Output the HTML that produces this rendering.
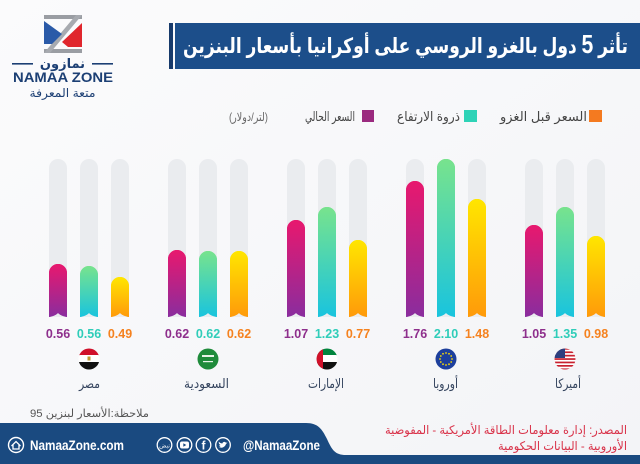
<!DOCTYPE html>
<html><head><meta charset="utf-8">
<style>
html,body{margin:0;padding:0;background:#f7f8fa;}
svg{display:block;}
text{font-family:"Liberation Sans","DejaVu Sans",sans-serif;}
</style></head>
<body>
<svg width="640" height="464" viewBox="0 0 640 464" xmlns="http://www.w3.org/2000/svg">
<defs>
  <linearGradient id="gm" x1="0" y1="0" x2="0" y2="1">
    <stop offset="0" stop-color="#e8186e"/><stop offset="1" stop-color="#8a2d9e"/>
  </linearGradient>
  <linearGradient id="gt" x1="0" y1="0" x2="0" y2="1">
    <stop offset="0" stop-color="#78e38d"/><stop offset="1" stop-color="#19c4de"/>
  </linearGradient>
  <linearGradient id="gy" x1="0" y1="0" x2="0" y2="1">
    <stop offset="0" stop-color="#ffe600"/><stop offset="1" stop-color="#ff9a0a"/>
  </linearGradient>
  <linearGradient id="bg" x1="0" y1="0" x2="1" y2="1">
    <stop offset="0" stop-color="#fbfbfc"/><stop offset="1" stop-color="#f3f4f7"/>
  </linearGradient>
  <pattern id="ln" patternUnits="userSpaceOnUse" x="0" y="194" width="640" height="18.17">
    <rect x="0" y="0" width="640" height="1.2" fill="#ffffff" fill-opacity="0.4"/>
  </pattern>
  <clipPath id="c1"><circle cx="89" cy="359" r="10.5"/></clipPath>
  <clipPath id="c2"><circle cx="208" cy="359" r="10.5"/></clipPath>
  <clipPath id="c3"><circle cx="327" cy="359" r="10.5"/></clipPath>
  <clipPath id="c4"><circle cx="446" cy="359" r="10.5"/></clipPath>
  <clipPath id="c5"><circle cx="565" cy="359" r="10.5"/></clipPath>
</defs>

<rect x="0" y="0" width="640" height="464" fill="url(#bg)"/>

<!-- Logo -->
<g>
  <rect x="44" y="15" width="38" height="4" fill="#9a9da3"/>
  <rect x="44" y="49" width="38" height="4" fill="#9a9da3"/>
  <polygon points="76,15 82,15 50,53 44,53" fill="#a7aab0"/>
  <polygon points="44,21 62,34 52,44 44,44" fill="#2a5aa8"/>
  <polygon points="82,23 82,47 68,47 62,42" fill="#e0262d"/>
  <rect x="12" y="63" width="21" height="1.6" fill="#1c3f74"/>
  <rect x="92" y="63" width="21" height="1.6" fill="#1c3f74"/>
  <text x="62.5" y="68" font-size="13" font-weight="bold" fill="#1c3f74" text-anchor="middle" direction="rtl">نمازون</text>
  <text x="63" y="82" font-size="14" font-weight="bold" fill="#1c3f74" text-anchor="middle" textLength="100" lengthAdjust="spacingAndGlyphs">NAMAA ZONE</text>
  <text x="62.5" y="97" font-size="12" fill="#1c3f74" text-anchor="middle" direction="rtl" textLength="66" lengthAdjust="spacingAndGlyphs">متعة المعرفة</text>
</g>

<!-- Title -->
<rect x="169" y="23" width="4" height="46" fill="#173a6b"/>
<rect x="175" y="23" width="465" height="46" fill="#1c4e8a"/>
<text x="405.5" y="53" font-size="21" font-weight="bold" fill="#ffffff" text-anchor="middle" direction="rtl" textLength="445" lengthAdjust="spacingAndGlyphs">تأثر <tspan font-size="26">5</tspan> دول بالغزو الروسي على أوكرانيا بأسعار البنزين</text>

<!-- Legend -->
<rect x="589" y="110" width="13" height="12" fill="#f47a20"/>
<text x="543.5" y="121" font-size="13" fill="#444" text-anchor="middle" direction="rtl" textLength="87" lengthAdjust="spacingAndGlyphs">السعر قبل الغزو</text>
<rect x="464" y="110" width="13" height="12" fill="#2ed3b7"/>
<text x="428.5" y="121" font-size="13" fill="#444" text-anchor="middle" direction="rtl" textLength="63" lengthAdjust="spacingAndGlyphs">ذروة الارتفاع</text>
<rect x="362" y="110" width="12" height="12" fill="#9b2a7f"/>
<text x="330" y="121" font-size="13" fill="#444" text-anchor="middle" direction="rtl" textLength="50" lengthAdjust="spacingAndGlyphs">السعر الحالي</text>
<text x="248.5" y="121" font-size="12" fill="#666" text-anchor="middle" direction="rtl" textLength="39" lengthAdjust="spacingAndGlyphs">(لتر/دولار)</text>

<!-- Tracks -->
<g fill="#eaecef">
  <path d="M49,317 L49,168 A9,9 0 0 1 67,168 L67,317 Z"/>
  <path d="M80,317 L80,168 A9,9 0 0 1 98,168 L98,317 Z"/>
  <path d="M111,317 L111,168 A9,9 0 0 1 129,168 L129,317 Z"/>
  <path d="M168,317 L168,168 A9,9 0 0 1 186,168 L186,317 Z"/>
  <path d="M199,317 L199,168 A9,9 0 0 1 217,168 L217,317 Z"/>
  <path d="M230,317 L230,168 A9,9 0 0 1 248,168 L248,317 Z"/>
  <path d="M287,317 L287,168 A9,9 0 0 1 305,168 L305,317 Z"/>
  <path d="M318,317 L318,168 A9,9 0 0 1 336,168 L336,317 Z"/>
  <path d="M349,317 L349,168 A9,9 0 0 1 367,168 L367,317 Z"/>
  <path d="M406,317 L406,168 A9,9 0 0 1 424,168 L424,317 Z"/>
  <path d="M437,317 L437,168 A9,9 0 0 1 455,168 L455,317 Z"/>
  <path d="M468,317 L468,168 A9,9 0 0 1 486,168 L486,317 Z"/>
  <path d="M525,317 L525,168 A9,9 0 0 1 543,168 L543,317 Z"/>
  <path d="M556,317 L556,168 A9,9 0 0 1 574,168 L574,317 Z"/>
  <path d="M587,317 L587,168 A9,9 0 0 1 605,168 L605,317 Z"/>
</g>

<!-- Bars -->
<g id="bars">
  <path id="b1" d="M49,317 L49,273 A9,9 0 0 1 67,273 L67,317 Q61,316 58,313 Q55,316 49,317 Z" fill="url(#gm)"/>
  <path id="b2" d="M80,317 L80,275 A9,9 0 0 1 98,275 L98,317 Q92,316 89,313 Q86,316 80,317 Z" fill="url(#gt)"/>
  <path id="b3" d="M111,317 L111,286 A9,9 0 0 1 129,286 L129,317 Q123,316 120,313 Q117,316 111,317 Z" fill="url(#gy)"/>
  <path id="b4" d="M168,317 L168,259 A9,9 0 0 1 186,259 L186,317 Q180,316 177,313 Q174,316 168,317 Z" fill="url(#gm)"/>
  <path id="b5" d="M199,317 L199,260 A9,9 0 0 1 217,260 L217,317 Q211,316 208,313 Q205,316 199,317 Z" fill="url(#gt)"/>
  <path id="b6" d="M230,317 L230,260 A9,9 0 0 1 248,260 L248,317 Q242,316 239,313 Q236,316 230,317 Z" fill="url(#gy)"/>
  <path id="b7" d="M287,317 L287,229 A9,9 0 0 1 305,229 L305,317 Q299,316 296,313 Q293,316 287,317 Z" fill="url(#gm)"/>
  <path id="b8" d="M318,317 L318,216 A9,9 0 0 1 336,216 L336,317 Q330,316 327,313 Q324,316 318,317 Z" fill="url(#gt)"/>
  <path id="b9" d="M349,317 L349,249 A9,9 0 0 1 367,249 L367,317 Q361,316 358,313 Q355,316 349,317 Z" fill="url(#gy)"/>
  <path id="b10" d="M406,317 L406,190 A9,9 0 0 1 424,190 L424,317 Q418,316 415,313 Q412,316 406,317 Z" fill="url(#gm)"/>
  <path id="b11" d="M437,317 L437,168 A9,9 0 0 1 455,168 L455,317 Q449,316 446,313 Q443,316 437,317 Z" fill="url(#gt)"/>
  <path id="b12" d="M468,317 L468,208 A9,9 0 0 1 486,208 L486,317 Q480,316 477,313 Q474,316 468,317 Z" fill="url(#gy)"/>
  <path id="b13" d="M525,317 L525,234 A9,9 0 0 1 543,234 L543,317 Q537,316 534,313 Q531,316 525,317 Z" fill="url(#gm)"/>
  <path id="b14" d="M556,317 L556,216 A9,9 0 0 1 574,216 L574,317 Q568,316 565,313 Q562,316 556,317 Z" fill="url(#gt)"/>
  <path id="b15" d="M587,317 L587,245 A9,9 0 0 1 605,245 L605,317 Q599,316 596,313 Q593,316 587,317 Z" fill="url(#gy)"/>
</g>
<g fill="url(#ln)">
  <use href="#b1"/><use href="#b2"/><use href="#b3"/><use href="#b4"/><use href="#b5"/>
  <use href="#b6"/><use href="#b7"/><use href="#b8"/><use href="#b9"/><use href="#b10"/>
  <use href="#b11"/><use href="#b12"/><use href="#b13"/><use href="#b14"/><use href="#b15"/>
</g>

<!-- Values -->
<g font-size="12.5" font-weight="bold" text-anchor="middle">
  <text x="58" y="338" fill="#8e2f8c">0.56</text>
  <text x="89" y="338" fill="#2fcdb9">0.56</text>
  <text x="120" y="338" fill="#f5821f">0.49</text>
  <text x="177" y="338" fill="#8e2f8c">0.62</text>
  <text x="208" y="338" fill="#2fcdb9">0.62</text>
  <text x="239" y="338" fill="#f5821f">0.62</text>
  <text x="296" y="338" fill="#8e2f8c">1.07</text>
  <text x="327" y="338" fill="#2fcdb9">1.23</text>
  <text x="358" y="338" fill="#f5821f">0.77</text>
  <text x="415" y="338" fill="#8e2f8c">1.76</text>
  <text x="446" y="338" fill="#2fcdb9">2.10</text>
  <text x="477" y="338" fill="#f5821f">1.48</text>
  <text x="534" y="338" fill="#8e2f8c">1.05</text>
  <text x="565" y="338" fill="#2fcdb9">1.35</text>
  <text x="596" y="338" fill="#f5821f">0.98</text>
</g>

<!-- Flags -->
<g clip-path="url(#c1)">
  <rect x="78" y="348" width="22" height="8" fill="#d0102a"/>
  <rect x="78" y="355" width="22" height="8" fill="#ffffff"/>
  <rect x="78" y="362" width="22" height="9" fill="#111111"/>
  <rect x="87.5" y="356.5" width="3" height="4" fill="#c09a30"/>
</g>
<g clip-path="url(#c2)">
  <rect x="197" y="348" width="22" height="22" fill="#1f8b3b"/>
  <rect x="202" y="355" width="12" height="2" fill="#e8f3e8"/>
  <rect x="203" y="361" width="10" height="1.2" fill="#e8f3e8"/>
</g>
<g clip-path="url(#c3)">
  <rect x="316" y="348" width="22" height="8" fill="#00843d"/>
  <rect x="316" y="355" width="22" height="8" fill="#ffffff"/>
  <rect x="316" y="362" width="22" height="9" fill="#111111"/>
  <rect x="316" y="348" width="7" height="22" fill="#d0102a"/>
</g>
<g clip-path="url(#c4)">
  <rect x="435" y="348" width="22" height="22" fill="#1d3f9c"/>
  <g fill="#f5d90a">
    <circle cx="446" cy="353" r="0.9"/><circle cx="449" cy="353.8" r="0.9"/><circle cx="451.2" cy="356" r="0.9"/>
    <circle cx="452" cy="359" r="0.9"/><circle cx="451.2" cy="362" r="0.9"/><circle cx="449" cy="364.2" r="0.9"/>
    <circle cx="446" cy="365" r="0.9"/><circle cx="443" cy="364.2" r="0.9"/><circle cx="440.8" cy="362" r="0.9"/>
    <circle cx="440" cy="359" r="0.9"/><circle cx="440.8" cy="356" r="0.9"/><circle cx="443" cy="353.8" r="0.9"/>
  </g>
</g>
<g clip-path="url(#c5)">
  <rect x="554" y="348" width="22" height="22" fill="#ffffff"/>
  <g fill="#c8202f">
    <rect x="554" y="348" width="22" height="1.7"/><rect x="554" y="351.4" width="22" height="1.7"/>
    <rect x="554" y="354.8" width="22" height="1.7"/><rect x="554" y="358.2" width="22" height="1.7"/>
    <rect x="554" y="361.6" width="22" height="1.7"/><rect x="554" y="365" width="22" height="1.7"/>
    <rect x="554" y="368.4" width="22" height="1.7"/>
  </g>
  <rect x="554" y="348" width="11" height="10" fill="#2d3f7f"/>
</g>

<!-- Country names -->
<g font-size="13" fill="#34445e" text-anchor="middle" direction="rtl">
  <text x="89.5" y="388" textLength="21" lengthAdjust="spacingAndGlyphs">مصر</text>
  <text x="206.5" y="388" textLength="45" lengthAdjust="spacingAndGlyphs">السعودية</text>
  <text x="326" y="388" textLength="36" lengthAdjust="spacingAndGlyphs">الإمارات</text>
  <text x="445.5" y="388" textLength="25" lengthAdjust="spacingAndGlyphs">أوروبا</text>
  <text x="568" y="388" textLength="26" lengthAdjust="spacingAndGlyphs">أميركا</text>
</g>

<!-- Note -->
<text x="89.5" y="417" font-size="11" fill="#555" text-anchor="middle" direction="rtl" textLength="119" lengthAdjust="spacingAndGlyphs">ملاحظة:الأسعار لبنزين 95</text>

<!-- Footer -->
<path d="M0,423 L306,423 C318,423 322,429 327,439 C332,450 335,455 346,455 L640,455 L640,464 L0,464 Z" fill="#1a4a80"/>
<circle cx="16" cy="445" r="7.5" fill="none" stroke="#ffffff" stroke-width="1.4"/>
<path d="M11.5,446 L16,441.5 L20.5,446 M13,445 L13,449 L19,449 L19,445" fill="none" stroke="#ffffff" stroke-width="1.3"/>
<text x="30" y="450" font-size="14" font-weight="bold" fill="#ffffff" textLength="94" lengthAdjust="spacingAndGlyphs">NamaaZone.com</text>
<g fill="none" stroke="#ffffff" stroke-width="1.3">
  <circle cx="164.5" cy="445" r="7.3"/>
  <circle cx="184.5" cy="445" r="7.3"/>
  <circle cx="203.5" cy="445" r="7.3"/>
  <circle cx="223" cy="445" r="7.3"/>
</g>
<text x="164.5" y="447.5" font-size="6" fill="#ffffff" text-anchor="middle" direction="rtl">نبض</text>
<rect x="180" y="441.5" width="9" height="7" rx="2" fill="#ffffff"/>
<polygon points="183.3,443.2 183.3,446.8 186.3,445" fill="#1a4a80"/>
<text x="203.5" y="449.5" font-size="12" font-weight="bold" fill="#ffffff" text-anchor="middle">f</text>
<path d="M218.5,447.5 C221,448.5 225,447.5 226,444 L227.5,442.5 L226,442.8 C225,441.5 223,441.5 222.3,443.5 C220.5,443.5 219.5,442.5 218.8,441.8 C218.5,443.5 219.3,444.5 220.5,445 C219.8,445.5 219.5,445.5 219,445.2 C219.5,446.5 220.5,447 221.3,447 C220.5,447.5 219.5,447.6 218.5,447.5 Z" fill="#ffffff"/>
<text x="243" y="450" font-size="13.5" font-weight="bold" fill="#ffffff" textLength="77" lengthAdjust="spacingAndGlyphs">@NamaaZone</text>

<!-- Source -->
<text x="506" y="434" font-size="12" fill="#d9334a" text-anchor="middle" direction="rtl" textLength="242" lengthAdjust="spacingAndGlyphs">المصدر: إدارة معلومات الطاقة الأمريكية - المفوضية</text>
<text x="562.5" y="450" font-size="12" fill="#d9334a" text-anchor="middle" direction="rtl" textLength="129" lengthAdjust="spacingAndGlyphs">الأوروبية - البيانات الحكومية</text>
</svg>
</body></html>
